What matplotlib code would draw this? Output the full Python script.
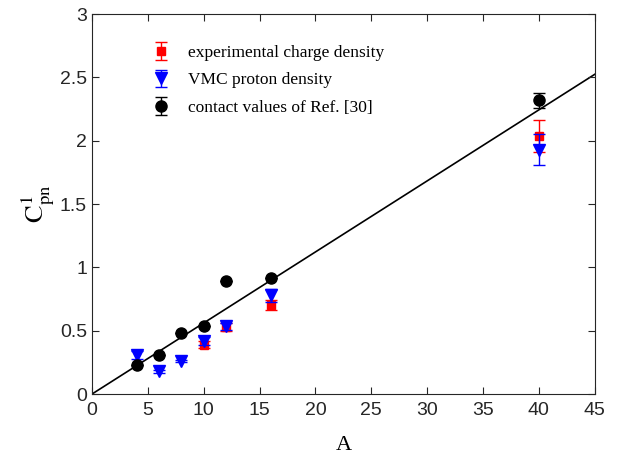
import matplotlib.pyplot as plt

plt.rcParams['mathtext.fontset'] = 'stix'

# experimental charge density
A_exp = [10, 12, 16, 40]
C_exp = [0.39, 0.53, 0.70, 2.04]
err_exp = [0.03, 0.03, 0.04, 0.125]

# VMC proton density
A_vmc = [4, 6, 8, 10, 12, 16, 40]
C_vmc = [0.31, 0.18, 0.26, 0.42, 0.535, 0.78, 1.93]
err_vmc = [0.03, 0.01, 0.01, 0.03, 0.03, 0.05, 0.12]

# contact values of Ref. [30]
A_con = [4, 6, 8, 10, 12, 16, 40]
C_con = [0.23, 0.305, 0.48, 0.535, 0.895, 0.915, 2.32]
err_con = [0.0, 0.0, 0.0, 0.0, 0.0, 0.0, 0.06]

# linear fit through the origin
fit_x = [0, 45]
slope = 0.0561

fig = plt.figure(figsize=(6.17, 4.54), dpi=100)
ax = fig.add_axes([0.149, 0.132, 0.815, 0.837])

ax.plot(fit_x, [slope * x for x in fit_x], color='black', lw=1.2, zorder=1)

ax.errorbar(A_exp, C_exp, yerr=err_exp, fmt='s', color='red', ms=6,
            capsize=4, elinewidth=1, label='experimental charge density', zorder=2)
ax.errorbar(A_vmc, C_vmc, yerr=err_vmc, fmt='v', color='blue', ms=8,
            capsize=4, elinewidth=1, label='VMC proton density', zorder=3)
ax.errorbar(A_con, C_con, yerr=err_con, fmt='o', color='black', ms=8,
            capsize=4, elinewidth=1, label='contact values of Ref. [30]', zorder=4)

ax.set_xlim(0, 45)
ax.set_ylim(0, 3)
ax.set_xticks(range(0, 46, 5))
ax.set_yticks([0, 0.5, 1, 1.5, 2, 2.5, 3])
ax.set_yticklabels(['0', '0.5', '1', '1.5', '2', '2.5', '3'])
ax.tick_params(direction='in', top=True, right=True, length=5, width=0.8,
               colors='#262626', labelsize=14)
ax.tick_params(axis='x', pad=6)
for lbl in ax.get_xticklabels() + ax.get_yticklabels():
    lbl.set_family('Liberation Sans')
for sp in ax.spines.values():
    sp.set_color('#262626')
    sp.set_linewidth(0.8)

ax.set_xlabel('A', family='Liberation Serif', fontsize=16, labelpad=12)
ax.set_ylabel(r'$\mathrm{C}^{1}_{\mathrm{pn}}$', fontsize=19, labelpad=2)

leg = ax.legend(loc='upper left', bbox_to_anchor=(0.085, 0.96), frameon=False,
                prop={'family': 'Liberation Serif', 'size': 12.5},
                handletextpad=1.0, labelspacing=0.65, handlelength=1.2)

fig.savefig('out.png', dpi=100)
